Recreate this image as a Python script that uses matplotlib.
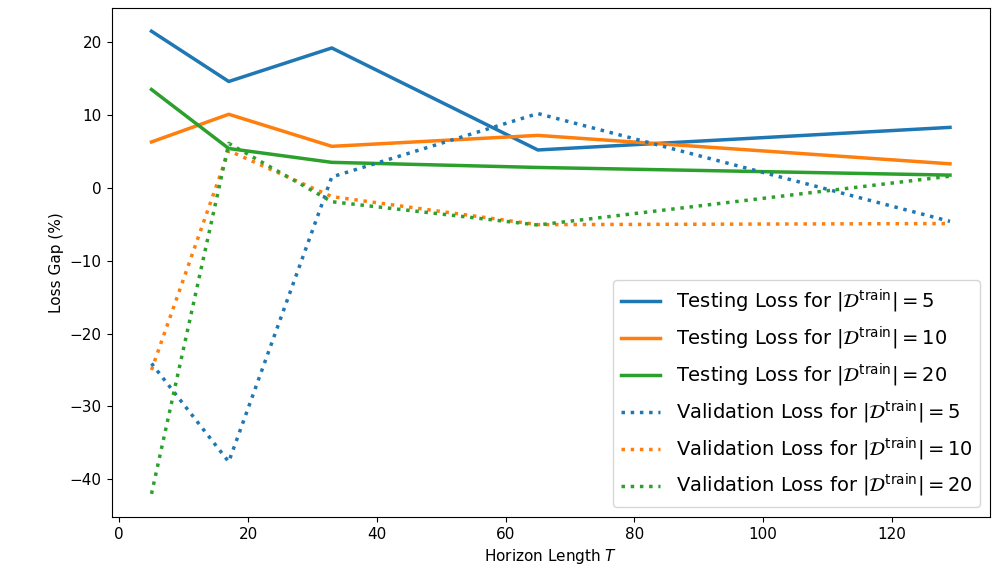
import matplotlib
matplotlib.use('Agg')
import matplotlib.pyplot as plt

# horizon lengths
horizon = [5, 17, 33, 65, 129]

# testing loss gaps (%)
test_5 = [21.5, 14.6, 19.2, 5.2, 8.3]
test_10 = [6.3, 10.1, 5.7, 7.2, 3.3]
test_20 = [13.5, 5.4, 3.5, 2.8, 1.75]

# validation loss gaps (%)
val_5 = [-24.1, -37.6, 1.5, 10.2, -4.6]
val_10 = [-25.0, 5.1, -1.2, -5.05, -4.9]
val_20 = [-42.0, 6.1, -1.9, -5.1, 1.6]

sizes = [5, 10, 20]
colors = ['#1f77b4', '#ff7f0e', '#2ca02c']

fig = plt.figure(figsize=(10.05, 5.77), dpi=100)
ax = fig.add_axes([0.111, 0.104, 0.874, 0.882])

for n, ys, c in zip(sizes, [test_5, test_10, test_20], colors):
    ax.plot(horizon, ys, color=c, linewidth=2.5,
            label=r'Testing Loss for $|\mathcal{D}^{\mathrm{train}}| = %d$' % n)
for n, ys, c in zip(sizes, [val_5, val_10, val_20], colors):
    ax.plot(horizon, ys, color=c, linewidth=2.5, linestyle=':',
            label=r'Validation Loss for $|\mathcal{D}^{\mathrm{train}}| = %d$' % n)

ax.set_xlabel(r'Horizon Length $T$', fontsize=11)
ax.set_ylabel('Loss Gap (%)', fontsize=11)
ax.tick_params(labelsize=11)
ax.legend(loc='lower right', fontsize=14)

fig.savefig('out.png', dpi=100)
